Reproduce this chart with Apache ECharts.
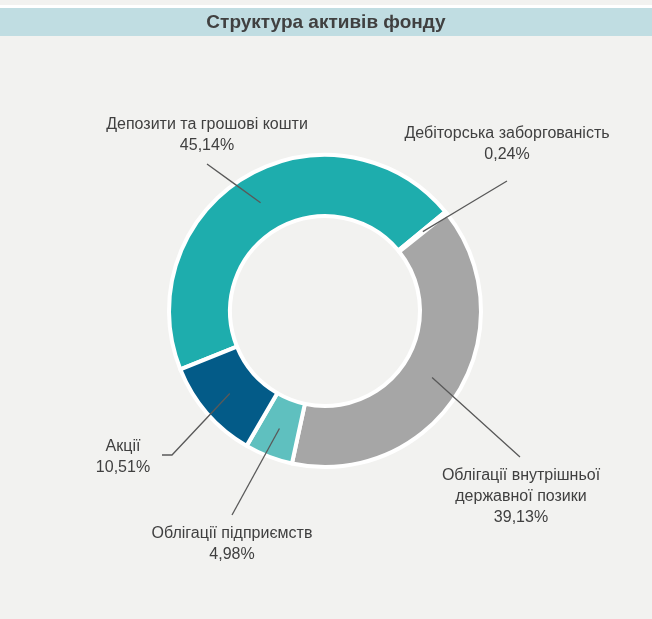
<!DOCTYPE html>
<html lang="uk">
<head>
    <meta charset="UTF-8">
    <title>Структура активів фонду</title>
    <script src="https://cdn.jsdelivr.net/npm/echarts@6.0.0/dist/echarts.min.js"></script>
    <style>
        html, body { margin: 0; padding: 0; background: #f2f2f0; }
        #chart { width: 652px; height: 619px; }
    </style>
</head>
<body>
<div id="chart"></div>
<script>
    // дані
    var categories = [
        'Депозити та грошові кошти',
        'Дебіторська заборгованість',
        'Облігації внутрішньої\nдержавної позики',
        'Облігації підприємств',
        'Акції'
    ];
    var shares = [45.14, 0.24, 39.13, 4.98, 10.51];
    var colors = ['#1eadad', '#1eadad', '#a6a6a6', '#5fc0bf', '#035b88'];

    // де стоять підписи і куди йдуть лінії-виноски
    var labelCenters = [[207, 135], [507, 144], [521, 497], [232, 544], [123, 457]];
    var lineEnds = [[207, 164], [507, 181], [520, 457], [232, 515], [162, 455]];
    var lineBends = [null, null, null, null, [172, 455]];

    var cx = 325, cy = 311, midR = 126;

    var chart = echarts.init(document.getElementById('chart'));

    function pct(v) {
        return v.toFixed(2).replace('.', ',') + '%';
    }

    var ring = {
        type: 'pie',
        center: [cx, cy],
        radius: [95, 156],
        startAngle: 202,
        clockwise: true,
        avoidLabelOverlap: false,
        silent: true
    };

    // кільце без підписів
    var ringSeries = Object.assign({}, ring, {
        z: 2,
        itemStyle: { borderColor: '#ffffff', borderWidth: 4 },
        label: { show: false },
        labelLine: { show: false },
        data: categories.map(function (name, i) {
            return { name: name, value: shares[i], itemStyle: { color: colors[i] } };
        })
    });

    // прозора копія зверху, тільки підписи та виноски
    var labelSeries = Object.assign({}, ring, {
        z: 5,
        itemStyle: { color: 'rgba(0,0,0,0)', borderWidth: 0 },
        label: {
            show: true,
            position: 'outside',
            fontFamily: 'Liberation Sans',
            fontSize: 16,
            lineHeight: 21,
            color: '#404040',
            align: 'center',
            formatter: function (p) { return p.name + '\n' + pct(p.value); }
        },
        labelLine: {
            show: true,
            lineStyle: { color: '#595959', width: 1.3 }
        },
        labelLayout: function (params) {
            var i = params.dataIndex;
            var p0 = params.labelLinePoints ? params.labelLinePoints[0] : [cx, cy];
            var a = Math.atan2(p0[1] - cy, p0[0] - cx);
            var start = [cx + midR * Math.cos(a), cy + midR * Math.sin(a)];
            var end = lineEnds[i];
            var mid = lineBends[i] || [(start[0] + end[0]) / 2, (start[1] + end[1]) / 2];
            return {
                x: labelCenters[i][0],
                y: labelCenters[i][1],
                align: 'center',
                verticalAlign: 'middle',
                labelLinePoints: [start, mid, end]
            };
        },
        data: categories.map(function (name, i) {
            return { name: name, value: shares[i] };
        })
    });

    chart.setOption({
        backgroundColor: '#f2f2f0',
        animation: false,
        title: {
            text: 'Структура активів фонду',
            left: 'center',
            top: 13,
            padding: 0,
            textStyle: { fontFamily: 'Liberation Sans', fontSize: 19, fontWeight: 'bold', color: '#404040' }
        },
        graphic: [
            { type: 'rect', shape: { x: 0, y: 5, width: 652, height: 3 }, style: { fill: '#ffffff' }, z: -1 },
            { type: 'rect', shape: { x: 0, y: 8, width: 652, height: 28 }, style: { fill: '#c0dde2' }, z: -1 }
        ],
        series: [ringSeries, labelSeries]
    });
</script>
</body>
</html>
